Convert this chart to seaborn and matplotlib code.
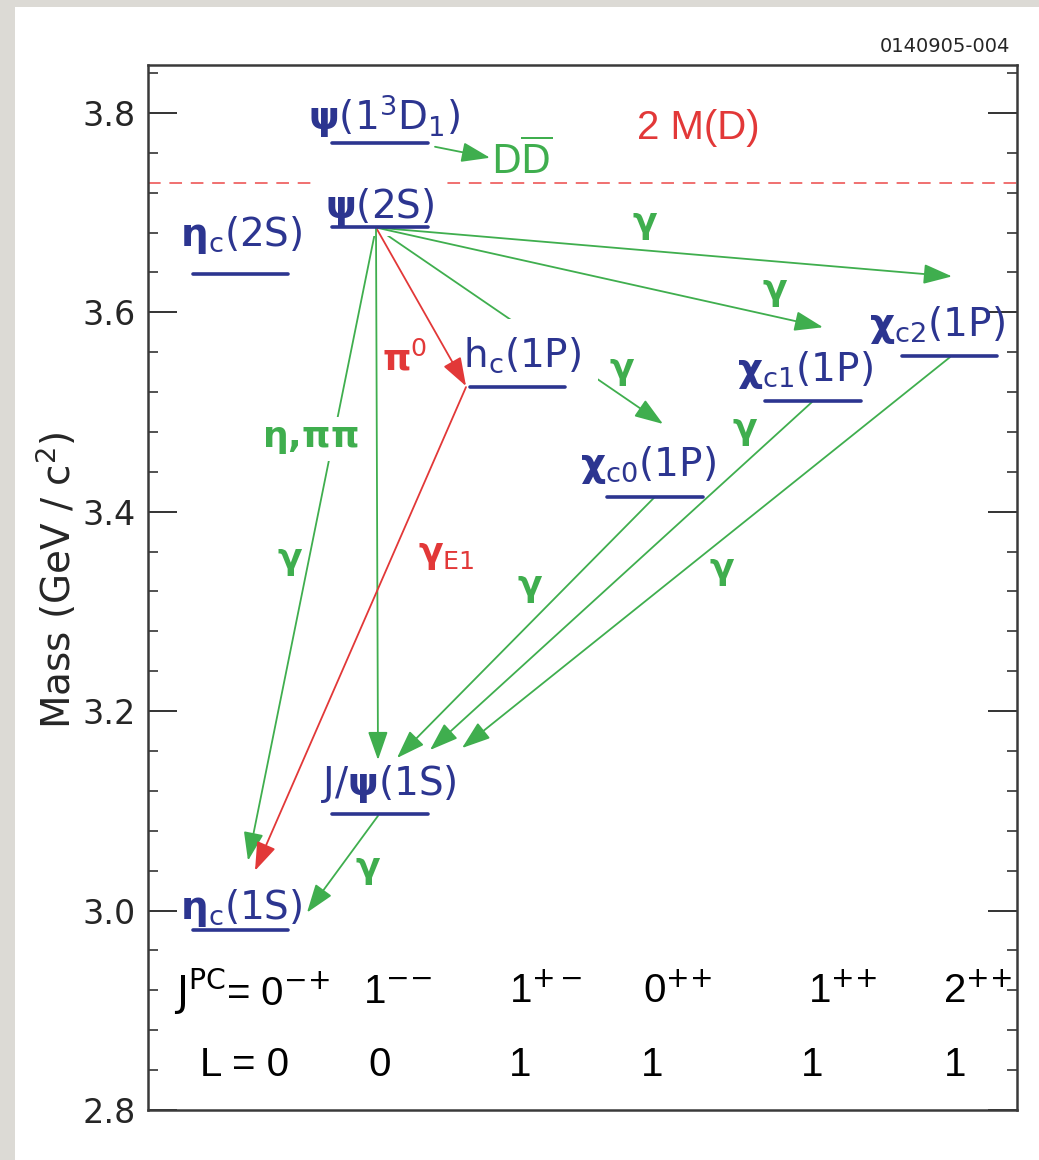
import numpy as np
import pandas as pd
import seaborn as sns
import matplotlib
matplotlib.use("Agg")
import matplotlib.pyplot as plt
from matplotlib.patches import Rectangle
from matplotlib.ticker import MultipleLocator, FormatStrFormatter

sns.set_theme(style="white")
plt.rcParams["font.family"] = ["DejaVu Sans"]
plt.rcParams["mathtext.fontset"] = "dejavusans"

NAVY = "#2c3590"
GREEN = "#3fae4e"
RED = "#e23838"

# ---------------- data ----------------
level_names = ["etac1S", "jpsi", "etac2S", "psi2S", "psi3770", "hc", "chic0", "chic1", "chic2"]
level_x0 = [0.45, 1.84, 0.45, 1.84, 1.84, 3.22, 4.59, 6.17, 7.54]
level_x1 = [1.40, 2.80, 1.40, 2.80, 2.80, 4.17, 5.55, 7.13, 8.49]
level_mass = [2.981, 3.097, 3.638, 3.686, 3.770, 3.525, 3.415, 3.511, 3.556]

level_labels = [
    r"$\mathbf{\eta}_\mathrm{c}\mathrm{(1S)}$",
    r"$\mathrm{J/}\mathbf{\psi}\mathrm{(1S)}$",
    r"$\mathbf{\eta}_\mathrm{c}\mathrm{(2S)}$",
    r"$\mathbf{\psi}\mathrm{(2S)}$",
    r"$\mathbf{\psi}\mathrm{(1^{3}D_{1})}$",
    r"$\mathrm{h_{c}(1P)}$",
    r"$\mathbf{\chi}_\mathrm{c0}\mathrm{(1P)}$",
    r"$\mathbf{\chi}_\mathrm{c1}\mathrm{(1P)}$",
    r"$\mathbf{\chi}_\mathrm{c2}\mathrm{(1P)}$",
]
label_x = [0.93, 2.41, 0.93, 2.32, 2.36, 3.74, 5.00, 6.57, 7.89]
label_m = [2.992, 3.116, 3.666, 3.695, 3.783, 3.545, 3.436, 3.531, 3.576]
label_pad = [0, 0, 0, 6, 0, 12, 0, 0, 0]

# transitions (arrows): start, end, colour, drawn behind labels?
arr_x0 = [2.87, 2.28, 2.28, 2.28, 2.28, 2.28, 2.28, 3.18, 5.07, 6.64, 8.02, 2.30]
arr_m0 = [3.766, 3.685, 3.685, 3.685, 3.685, 3.685, 3.685, 3.525, 3.415, 3.510, 3.555, 3.095]
arr_x1 = [3.42, 8.04, 6.75, 5.15, 3.18, 2.30, 1.00, 1.07, 2.49, 2.82, 3.14, 1.59]
arr_m1 = [3.755, 3.636, 3.585, 3.488, 3.526, 3.151, 3.050, 3.040, 3.153, 3.161, 3.163, 2.998]
arr_col = ["g", "g", "g", "g", "r", "g", "g", "r", "g", "g", "g", "g"]
arr_behind = [False, False, False, True, False, False, True, False, False, False, False, False]

# transition labels
tl_text = [r"$\mathbf{\gamma}$", r"$\mathbf{\gamma}$", r"$\mathbf{\gamma}$",
           r"$\mathbf{\pi}^\mathrm{0}$", r"$\mathbf{\eta}\mathbf{,}\mathbf{\pi\pi}$",
           r"$\mathbf{\gamma}$", r"$\mathbf{\gamma}_\mathrm{E1}$",
           r"$\mathbf{\gamma}$", r"$\mathbf{\gamma}$", r"$\mathbf{\gamma}$", r"$\mathbf{\gamma}$",
           r"$\mathrm{D}\overline{\mathrm{D}}$"]
tl_x = [4.97, 6.27, 4.74, 2.57, 1.62, 1.42, 2.98, 5.97, 3.82, 5.74, 2.20, 3.74]
tl_m = [3.688, 3.620, 3.541, 3.553, 3.473, 3.351, 3.357, 3.481, 3.323, 3.341, 3.041, 3.752]
tl_col = ["g", "g", "g", "r", "g", "g", "r", "g", "g", "g", "g", "g"]
tl_box = [False, False, False, False, True, False, False, False, False, False, False, False]

threshold_2MD = 3.7297

jpc_text = [r"$\mathrm{J^{PC}}$= 0$^{{-}{+}}$", r"1$^{{-}{-}}$", r"1$^{{+}\,{-}}$",
            r"0$^{{+}{+}}$", r"1$^{{+}{+}}$", r"2$^{{+}{+}}$"]
jpc_x = [1.04, 2.50, 3.98, 5.30, 6.95, 8.30]
L_text = ["L = 0", "0", "1", "1", "1", "1"]
L_x = [0.97, 2.32, 3.72, 5.04, 6.64, 8.07]
jpc_m = 2.918
L_m = 2.845

# ---------------- figure ----------------
fig = plt.figure(figsize=(10.39, 11.6), dpi=100)
fig.patch.set_facecolor("#dcdad5")
fig.patches.append(Rectangle((15 / 1039, 0), 1 - 15 / 1039, 1 - 7 / 1160,
                             transform=fig.transFigure, facecolor="white",
                             edgecolor="none", zorder=-10))
ax = fig.add_axes([148 / 1039, 50 / 1160, 869 / 1039, 1045 / 1160])
ax.set_facecolor("white")

colmap = {"g": GREEN, "r": RED}

# levels via seaborn
rows = []
for n, a, b, m in zip(level_names, level_x0, level_x1, level_mass):
    rows.append({"level": n, "x": a, "mass": m})
    rows.append({"level": n, "x": b, "mass": m})
df = pd.DataFrame(rows)
sns.lineplot(data=df, x="x", y="mass", units="level", estimator=None,
             color=NAVY, lw=2.6, ax=ax, zorder=6, legend=False)

# 2 M(D) threshold
ax.axhline(threshold_2MD, color="#f07070", lw=1.4, ls=(0, (6.5, 4.5)), zorder=1)

# arrows
for x0, m0, x1, m1, c, behind in zip(arr_x0, arr_m0, arr_x1, arr_m1, arr_col, arr_behind):
    ax.annotate("", xy=(x1, m1), xytext=(x0, m0),
                arrowprops=dict(arrowstyle="-|>,head_length=0.8,head_width=0.28",
                                color=colmap[c], lw=1.3, mutation_scale=22,
                                shrinkA=0, shrinkB=0),
                zorder=2 if behind else 5)

# level labels
for t, x, m, pad in zip(level_labels, label_x, label_m, label_pad):
    kw = {}
    if pad:
        kw["bbox"] = dict(facecolor="white", edgecolor="none", pad=pad)
    ax.text(x, m, t, ha="center", va="baseline", fontsize=28, color=NAVY,
            zorder=3, **kw)

# transition labels
for t, x, m, c, box in zip(tl_text, tl_x, tl_m, tl_col, tl_box):
    kw = {}
    if box:
        kw["bbox"] = dict(facecolor="white", edgecolor="none", pad=4)
    ax.text(x, m, t, ha="center", va="center", fontsize=26 if "D" not in t else 28,
            color=colmap[c], zorder=3, **kw)

ax.text(5.50, 3.785, "2 M(D)", ha="center", va="center", fontsize=29,
        color=RED, family="Liberation Sans", zorder=3)

# quantum numbers
for t, x in zip(jpc_text, jpc_x):
    ax.text(x, jpc_m, t, ha="center", va="center", fontsize=29,
            family="Liberation Sans", color="black")
for t, x in zip(L_text, L_x):
    ax.text(x, L_m, t, ha="center", va="center", fontsize=29,
            family="Liberation Sans", color="black")

# axes styling
ax.set_xlim(0, 8.69)
ax.set_ylim(2.8, 3.848)
ax.set_xlabel("")
ax.set_ylabel("")
ax.set_xticks([])
ax.yaxis.set_major_locator(MultipleLocator(0.2))
ax.yaxis.set_minor_locator(MultipleLocator(0.04))
ax.yaxis.set_major_formatter(FormatStrFormatter("%.1f"))
ax.tick_params(axis="y", which="both", direction="in", left=True, right=True,
               color="#333333")
ax.tick_params(axis="y", which="major", length=21, width=1.4, labelsize=24, pad=9)
ax.tick_params(axis="y", which="minor", length=7, width=1.2)
for s in ax.spines.values():
    s.set_color("#3a3a3a")
    s.set_linewidth(1.8)

fig.text(57 / 1039, 1 - 580 / 1160, r"Mass (GeV / c$^2$)", rotation=90,
         ha="center", va="center", fontsize=28)
fig.text(1010 / 1039, 1 - 47 / 1160, "0140905-004", ha="right", va="center",
         fontsize=14)

fig.savefig("out.png", dpi=100, facecolor=fig.get_facecolor())
